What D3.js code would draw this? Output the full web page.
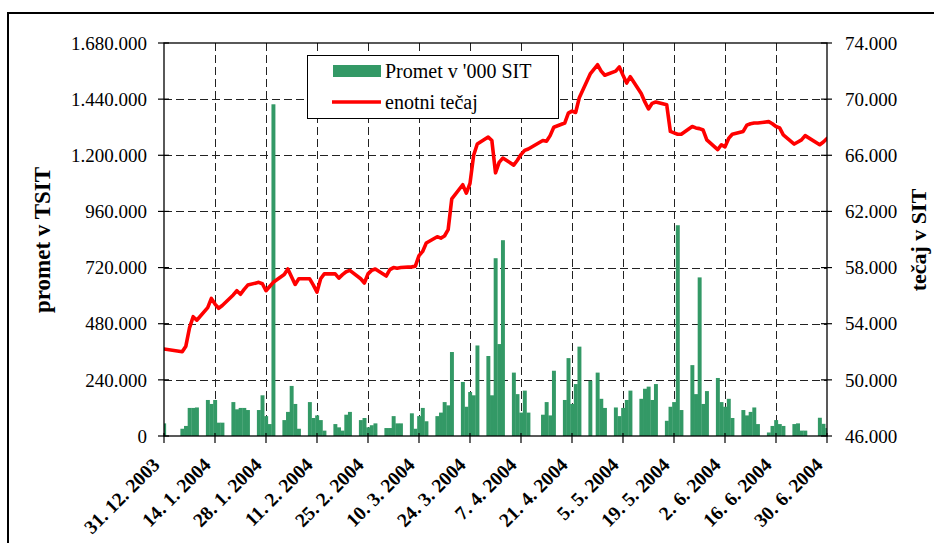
<!DOCTYPE html>
<html><head><meta charset="utf-8">
<script src="https://cdn.jsdelivr.net/npm/d3@7"></script>
<style>
body{margin:0;background:#fff}
svg{display:block}
text{font-family:"Liberation Serif","Times New Roman",serif;fill:#000}
</style>
</head><body>
<svg id="c" width="934" height="543"></svg>
<script>
// ---------- DATA ----------
const dates = [
"2003-12-31","2004-01-05","2004-01-06","2004-01-07","2004-01-08","2004-01-09",
"2004-01-12","2004-01-13","2004-01-14","2004-01-15","2004-01-16",
"2004-01-19","2004-01-20","2004-01-21","2004-01-22","2004-01-23",
"2004-01-26","2004-01-27","2004-01-28","2004-01-29","2004-01-30",
"2004-02-02","2004-02-03","2004-02-04","2004-02-05","2004-02-06",
"2004-02-09","2004-02-10","2004-02-11","2004-02-12","2004-02-13",
"2004-02-16","2004-02-17","2004-02-18","2004-02-19","2004-02-20",
"2004-02-23","2004-02-24","2004-02-25","2004-02-26","2004-02-27",
"2004-03-01","2004-03-02","2004-03-03","2004-03-04","2004-03-05",
"2004-03-08","2004-03-09","2004-03-10","2004-03-11","2004-03-12",
"2004-03-15","2004-03-16","2004-03-17","2004-03-18","2004-03-19",
"2004-03-22","2004-03-23","2004-03-24","2004-03-25","2004-03-26",
"2004-03-29","2004-03-30","2004-03-31","2004-04-01","2004-04-02",
"2004-04-05","2004-04-06","2004-04-07","2004-04-08","2004-04-09",
"2004-04-13","2004-04-14","2004-04-15","2004-04-16",
"2004-04-19","2004-04-20","2004-04-21","2004-04-22","2004-04-23",
"2004-04-26","2004-04-28","2004-04-29","2004-04-30",
"2004-05-03","2004-05-04","2004-05-05","2004-05-06","2004-05-07",
"2004-05-10","2004-05-11","2004-05-12","2004-05-13","2004-05-14",
"2004-05-17","2004-05-18","2004-05-19","2004-05-20","2004-05-21",
"2004-05-24","2004-05-25","2004-05-26","2004-05-27","2004-05-28",
"2004-05-31","2004-06-01","2004-06-02","2004-06-03","2004-06-04",
"2004-06-07","2004-06-08","2004-06-09","2004-06-10","2004-06-11",
"2004-06-14","2004-06-15","2004-06-16","2004-06-17","2004-06-18",
"2004-06-21","2004-06-22","2004-06-23","2004-06-24",
"2004-06-28","2004-06-29","2004-06-30"
];
const promet = [
54000,31000,43000,120000,120000,122000,
154000,137000,154000,57000,57000,
145000,114000,120000,120000,111000,
111000,174000,85000,51000,1418000,
68000,103000,214000,137000,31000,
145000,77000,88000,68000,23000,
51000,37000,23000,91000,103000,
68000,77000,37000,46000,54000,
34000,34000,85000,54000,54000,
97000,31000,85000,120000,63000,
85000,100000,145000,131000,359000,
231000,125000,188000,174000,387000,
342000,174000,760000,393000,837000,
271000,179000,100000,194000,100000,
91000,145000,88000,279000,
154000,333000,137000,222000,382000,
236000,271000,159000,120000,
122000,85000,120000,154000,194000,
159000,202000,211000,154000,222000,
65000,125000,145000,901000,111000,
303000,179000,678000,137000,192000,
248000,145000,125000,159000,77000,
111000,88000,103000,122000,51000,
15000,43000,68000,51000,43000,
51000,54000,23000,23000,
78000,52000,34000
];
const tecaj = [
52200,52000,52400,53700,54500,54250,
55150,55800,55400,55100,55300,
56050,56350,56100,56450,56750,
56950,56850,56350,56650,56950,
57500,57900,57350,56800,57200,
57200,56750,56250,57200,57550,
57550,57250,57500,57700,57800,
57200,56900,57550,57800,57900,
57400,57850,58000,57950,58000,
58050,58100,58850,59150,59750,
60200,60100,60250,60700,62900,
63900,63300,64000,66000,66800,
67300,67050,64750,65500,65800,
65300,65650,66050,66350,66450,
67050,67000,67400,68000,
68300,69000,69150,69050,70100,
71800,72450,72000,71700,
72000,72300,71700,71150,71600,
70400,69800,69300,69700,69800,
69600,67700,67600,67500,67500,
68050,67950,67900,67800,67100,
66400,66750,66600,67200,67500,
67700,68150,68250,68300,68300,
68400,68250,68050,67950,67450,
66800,66950,67100,67400,
66750,66950,67200
];
const xTicks = ["2003-12-31","2004-01-14","2004-01-28","2004-02-11","2004-02-25","2004-03-10",
"2004-03-24","2004-04-07","2004-04-21","2004-05-05","2004-05-19","2004-06-02","2004-06-16","2004-06-30"];
const leftTicks = [0,240000,480000,720000,960000,1200000,1440000,1680000];
const rightTicks = [46000,50000,54000,58000,62000,66000,70000,74000];
const seriesNames = ["Promet v '000 SIT","enotni tečaj"];
const axisTitles = ["promet v TSIT","tečaj v SIT"];

// ---------- CHART ----------
const svg = d3.select("#c");
const L = 164, R = 827, T = 43, B = 436;
const parse = d3.utcParse("%Y-%m-%d");
const rows = dates.map((d,i)=>({date:parse(d), p:promet[i], t:tecaj[i]}));
const x = d3.scaleUtc().domain([parse(xTicks[0]), parse(xTicks[xTicks.length-1])]).range([L,R]);
const yL = d3.scaleLinear().domain([0,1680000]).range([B,T]);
const yR = d3.scaleLinear().domain([46000,74000]).range([B,T]);
const loc = d3.formatLocale({decimal:",",thousands:".",grouping:[3],currency:["",""]});
const fmt = loc.format(",d");
const dayW = x(d3.utcDay.offset(parse(xTicks[0]),1)) - x(parse(xTicks[0]));

// outer border
svg.append("rect").attr("x",8).attr("y",13).attr("width",1000).attr("height",1000)
  .attr("fill","none").attr("stroke","#000").attr("stroke-width",2);

svg.append("defs").append("clipPath").attr("id","clip")
  .append("rect").attr("x",L).attr("y",T).attr("width",R-L).attr("height",B-T);

// gridlines
const g = svg.append("g");
g.selectAll("line.h").data(leftTicks.slice(1,-1)).enter().append("line")
  .attr("x1",L).attr("x2",R).attr("y1",d=>Math.round(yL(d))+0.5).attr("y2",d=>Math.round(yL(d))+0.5)
  .attr("stroke","#222").attr("stroke-width",1).attr("stroke-dasharray","8,4");
g.selectAll("line.v").data(xTicks.slice(1,-1)).enter().append("line")
  .attr("y1",T).attr("y2",B).attr("x1",d=>Math.round(x(parse(d)))+0.5).attr("x2",d=>Math.round(x(parse(d)))+0.5)
  .attr("stroke","#222").attr("stroke-width",1).attr("stroke-dasharray","8,4");

// bars
const plot = svg.append("g").attr("clip-path","url(#clip)");
plot.selectAll("rect.bar").data(rows).enter().append("rect")
  .attr("x",d=>x(d.date)-dayW/2).attr("width",dayW+0.3)
  .attr("y",d=>yL(d.p)).attr("height",d=>B-yL(d.p))
  .attr("fill","#339966");

// line
plot.append("path").datum(rows)
  .attr("d",d3.line().x(d=>x(d.date)).y(d=>yR(d.t)))
  .attr("fill","none").attr("stroke","#ff0000").attr("stroke-width",3.6)
  .attr("stroke-linejoin","round").attr("stroke-linecap","round");

// plot frame
svg.append("rect").attr("x",L).attr("y",T).attr("width",R-L).attr("height",B-T)
  .attr("fill","none").attr("stroke","#000").attr("stroke-width",1.3);

// left axis
const la = svg.append("g");
la.selectAll("line").data(leftTicks).enter().append("line")
  .attr("x1",L-6).attr("x2",L+5).attr("y1",d=>yL(d)).attr("y2",d=>yL(d)).attr("stroke","#000").attr("stroke-width",1.2);
la.selectAll("text").data(leftTicks).enter().append("text")
  .attr("x",147).attr("y",d=>yL(d)).attr("dy","0.35em").attr("text-anchor","end")
  .attr("font-size",19).text(d=>fmt(d));

// right axis
const ra = svg.append("g");
ra.selectAll("line").data(rightTicks).enter().append("line")
  .attr("x1",R-6).attr("x2",R+5).attr("y1",d=>yR(d)).attr("y2",d=>yR(d)).attr("stroke","#000").attr("stroke-width",1.2);
ra.selectAll("text").data(rightTicks).enter().append("text")
  .attr("x",845).attr("y",d=>yR(d)).attr("dy","0.35em").attr("text-anchor","start")
  .attr("font-size",19).text(d=>fmt(d));

// x axis
const xa = svg.append("g");
xa.selectAll("line").data(xTicks).enter().append("line")
  .attr("x1",d=>x(parse(d))).attr("x2",d=>x(parse(d))).attr("y1",B-3).attr("y2",B+7)
  .attr("stroke","#000").attr("stroke-width",1.2);
xa.selectAll("text").data(xTicks).enter().append("text")
  .attr("transform",d=>`translate(${x(parse(d))-3},${B+30}) rotate(-45)`)
  .attr("text-anchor","end").attr("font-size",19.5).attr("font-weight","bold")
  .text(d=>{const t=parse(d);return `${t.getUTCDate()}. ${t.getUTCMonth()+1}. ${t.getUTCFullYear()}`;});

// axis titles
svg.append("text").attr("transform","translate(42,240) rotate(-90)").attr("text-anchor","middle")
  .attr("dy","0.35em").attr("font-size",23).attr("font-weight","bold").text(axisTitles[0]);
svg.append("text").attr("transform","translate(919,240) rotate(-90)").attr("text-anchor","middle")
  .attr("dy","0.3em").attr("font-size",22).attr("font-weight","bold").text(axisTitles[1]);

// legend
const lg = svg.append("g");
lg.append("rect").attr("x",307.5).attr("y",55.5).attr("width",251).attr("height",63)
  .attr("fill","#fff").attr("stroke","#000").attr("stroke-width",1);
lg.append("rect").attr("x",333).attr("y",65).attr("width",48).attr("height",12).attr("fill","#339966");
lg.append("line").attr("x1",332).attr("x2",381).attr("y1",102).attr("y2",102)
  .attr("stroke","#ff0000").attr("stroke-width",3.5);
lg.append("text").attr("x",385).attr("y",78).attr("font-size",20).text(seriesNames[0]);
lg.append("text").attr("x",385).attr("y",109).attr("font-size",20).text(seriesNames[1]);
</script>
</body></html>
